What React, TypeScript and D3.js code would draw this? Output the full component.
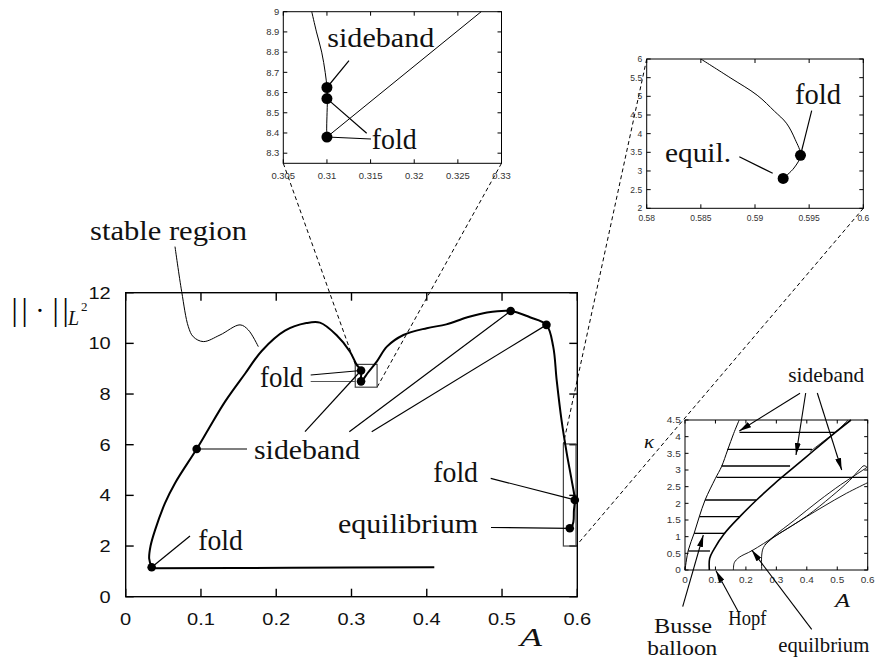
import React, { useEffect, useRef } from "react";
import * as d3 from "d3";

type Pt = [number, number];

// ---- main diagram: A vs ||u||_L2 ----
const mainXTicks = [0, 0.1, 0.2, 0.3, 0.4, 0.5, 0.6];
const mainXLabels = ["0", "0.1", "0.2", "0.3", "0.4", "0.5", "0.6"];
const mainYTicks = [0, 2, 4, 6, 8, 10, 12];
const mainYLabels = ["0", "2", "4", "6", "8", "10", "12"];

const lowerBranch: Pt[] = [[0.41, 1.16], [0.22, 1.14], [0.0345, 1.12]];
const upperBranch: Pt[] = [
  [0.0345, 1.16], [0.0312, 1.5], [0.033, 2.0], [0.039, 2.63], [0.0522, 3.69], [0.0655, 4.48],
  [0.0943, 5.83], [0.1097, 6.6], [0.132, 7.7], [0.1585, 8.8], [0.1807, 9.7], [0.2116, 10.5],
  [0.24, 10.8], [0.258, 10.82],
  [0.28, 10.33], [0.298, 9.67], [0.307, 9.15], [0.3127, 8.93], [0.3127, 8.5], [0.322, 8.85],
  [0.334, 9.3], [0.347, 9.87], [0.369, 10.33], [0.4, 10.6], [0.426, 10.75], [0.453, 11.02],
  [0.48, 11.22], [0.5115, 11.28], [0.537, 11.03], [0.559, 10.73], [0.568, 9.87], [0.5726, 8.55],
  [0.579, 6.98], [0.586, 5.66], [0.5925, 4.6], [0.5967, 3.82], [0.5955, 3.4], [0.5948, 2.95],
  [0.592, 2.74], [0.59, 2.7],
];
const stableRegion: Pt[] = [
  [0.0655, 13.82], [0.0744, 12.04], [0.0832, 10.66], [0.0898, 10.26], [0.1031, 10.07],
  [0.1253, 10.33], [0.1519, 10.73], [0.1629, 10.53], [0.1762, 9.87],
];
const mainDots: Pt[] = [
  [0.0345, 1.16], [0.0943, 5.83], [0.3127, 8.93], [0.3127, 8.5],
  [0.5115, 11.28], [0.559, 10.73], [0.5967, 3.82], [0.59, 2.7],
];
const zoomBox1 = { a: [0.305, 0.334], n: [8.27, 9.17] };
const zoomBox2 = { a: [0.5815, 0.5983], n: [2.0, 6.03] };

// ---- inset 1 ----
const in1XTicks = [0.305, 0.31, 0.315, 0.32, 0.325, 0.33];
const in1XLabels = ["0.305", "0.31", "0.315", "0.32", "0.325", "0.33"];
const in1YTicks = [8.3, 8.4, 8.5, 8.6, 8.7, 8.8, 8.9, 9];
const in1YLabels = ["8.3", "8.4", "8.5", "8.6", "8.7", "8.8", "8.9", "9"];
const in1Curve: Pt[] = [
  [0.30826, 9.0], [0.3088, 8.9], [0.3094, 8.8], [0.3098, 8.7], [0.31, 8.625],
  [0.31005, 8.57], [0.31, 8.48], [0.30997, 8.42], [0.31, 8.38],
];
const in1Line: Pt[] = [[0.31, 8.38], [0.32767, 9.0]];
const in1Dots: Pt[] = [[0.31, 8.625], [0.31, 8.57], [0.31, 8.38]];

// ---- inset 2 ----
const in2XTicks = [0.58, 0.585, 0.59, 0.595, 0.6];
const in2XLabels = ["0.58", "0.585", "0.59", "0.595", "0.6"];
const in2YTicks = [2, 2.5, 3, 3.5, 4, 4.5, 5, 5.5, 6];
const in2YLabels = ["2", "2.5", "3", "3.5", "4", "4.5", "5", "5.5", "6"];
const in2Curve: Pt[] = [
  [0.585, 6.0], [0.5877, 5.5], [0.5902, 5.03], [0.5918, 4.6], [0.5929, 4.28],
  [0.5937, 3.85], [0.5942, 3.42], [0.5936, 3.08], [0.5926, 2.8],
];
const in2Dots: Pt[] = [[0.5942, 3.42], [0.5926, 2.8]];

// ---- inset 3: Busse balloon (A, kappa) ----
const in3XTicks = [0, 0.1, 0.2, 0.3, 0.4, 0.5, 0.6];
const in3XLabels = ["0", "0.1", "0.2", "0.3", "0.4", "0.5", "0.6"];
const in3YTicks = [0, 0.5, 1, 1.5, 2, 2.5, 3, 3.5, 4, 4.5];
const in3YLabels = ["0", "0.5", "1", "1.5", "2", "2.5", "3", "3.5", "4", "4.5"];
const busseLeft: Pt[] = [
  [0, 0], [0.011, 0.6], [0.03, 1.1], [0.047, 1.6], [0.066, 2.1], [0.1, 2.75],
  [0.12, 3.1], [0.14, 3.6], [0.16, 4.1], [0.178, 4.5],
];
const sidebandRight: Pt[] = [
  [0.08, 0], [0.081, 0.35], [0.095, 0.62], [0.13, 1.1], [0.18, 1.6], [0.235, 2.1],
  [0.295, 2.6], [0.36, 3.1], [0.425, 3.6], [0.49, 4.1], [0.545, 4.5],
];
const sidebandInner: Pt[] = [[0.41, 3.55], [0.46, 3.9], [0.5, 4.18], [0.535, 4.5]];
const hatchKappa = [0.57, 1.1, 1.6, 2.1, 2.78, 3.12, 3.62, 4.13];
const hatchFrom = [0.011, 0.03, 0.047, 0.066, 0.104, 0.12, 0.139, 0.179];
const hatchTo = [0.082, 0.132, 0.18, 0.234, 0.6, 0.345, 0.417, 0.493];
const equilOuter: Pt[] = [
  [0.159, 0], [0.162, 0.22], [0.178, 0.38], [0.22, 0.58], [0.3, 1.04], [0.4, 1.62],
  [0.48, 2.2], [0.54, 2.68], [0.572, 3.0], [0.588, 3.13], [0.598, 3.08],
];
const equilInnerA: Pt[] = [
  [0.252, 0], [0.252, 0.45], [0.258, 0.68], [0.28, 0.9], [0.35, 1.32], [0.45, 1.88],
  [0.53, 2.3], [0.6, 2.62],
];
const equilInnerB: Pt[] = [
  [0.262, 0.75], [0.29, 1.0], [0.36, 1.5], [0.44, 2.08], [0.51, 2.55], [0.56, 2.85],
  [0.598, 3.08],
];

const serif = "'Liberation Serif', 'Times New Roman', serif";
const sans = "'Liberation Sans', Arial, sans-serif";

const App = () => {
  const ref = useRef<SVGSVGElement>(null);

  useEffect(() => {
    const svg = d3.select(ref.current);
    svg.selectAll("*").remove();

    const defs = svg.append("defs");
    defs
      .append("marker")
      .attr("id", "arr")
      .attr("viewBox", "0 0 12 6")
      .attr("refX", 12)
      .attr("refY", 3)
      .attr("markerUnits", "userSpaceOnUse")
      .attr("markerWidth", 12)
      .attr("markerHeight", 6)
      .attr("orient", "auto")
      .append("path")
      .attr("d", "M0,0L12,3L0,6z")
      .attr("fill", "#000");

    const smooth = (x: any, y: any) =>
      d3
        .line<Pt>()
        .x((d) => x(d[0]))
        .y((d) => y(d[1]))
        .curve(d3.curveCatmullRom.alpha(0.5));

    const seg = (x1: number, y1: number, x2: number, y2: number, w = 1, c = "#000") =>
      svg
        .append("line")
        .attr("x1", x1)
        .attr("y1", y1)
        .attr("x2", x2)
        .attr("y2", y2)
        .attr("stroke", c)
        .attr("stroke-width", w);

    const word = (t: string, x: number, y: number, size: number, len: number, italic = false) =>
      svg
        .append("text")
        .attr("x", x)
        .attr("y", y)
        .attr("font-family", serif)
        .attr("font-size", size)
        .attr("font-style", italic ? "italic" : "normal")
        .attr("textLength", len)
        .attr("lengthAdjust", "spacingAndGlyphs")
        .attr("fill", "#111")
        .text(t);

    const panel = (
      x: any, y: any,
      xt: number[], xl: string[], yt: number[], yl: string[],
      o: { tl: number; fs: number; sx: number; xdy: number; ydx: number; fw: number; col: string }
    ) => {
      const g = svg.append("g");
      const [x0, x1] = x.range();
      const [yb, yt0] = y.range();
      g.append("rect")
        .attr("x", x0)
        .attr("y", yt0)
        .attr("width", x1 - x0)
        .attr("height", yb - yt0)
        .attr("fill", "none")
        .attr("stroke", "#000")
        .attr("stroke-width", o.fw);
      xt.forEach((t, i) => {
        const px = x(t);
        g.append("line").attr("x1", px).attr("x2", px).attr("y1", yb).attr("y2", yb - o.tl)
          .attr("stroke", "#000").attr("stroke-width", o.fw);
        g.append("line").attr("x1", px).attr("x2", px).attr("y1", yt0).attr("y2", yt0 + o.tl)
          .attr("stroke", "#000").attr("stroke-width", o.fw);
        g.append("g")
          .attr("transform", `translate(${px},${yb + o.xdy}) scale(${o.sx},1)`)
          .append("text")
          .attr("text-anchor", "middle")
          .attr("font-family", sans)
          .attr("font-size", o.fs)
          .attr("fill", o.col)
          .text(xl[i]);
      });
      yt.forEach((t, i) => {
        const py = y(t);
        g.append("line").attr("x1", x0).attr("x2", x0 + o.tl).attr("y1", py).attr("y2", py)
          .attr("stroke", "#000").attr("stroke-width", o.fw);
        g.append("line").attr("x1", x1).attr("x2", x1 - o.tl).attr("y1", py).attr("y2", py)
          .attr("stroke", "#000").attr("stroke-width", o.fw);
        g.append("g")
          .attr("transform", `translate(${x0 - o.ydx},${py}) scale(${o.sx},1)`)
          .append("text")
          .attr("text-anchor", "end")
          .attr("dy", "0.36em")
          .attr("font-family", sans)
          .attr("font-size", o.fs)
          .attr("fill", o.col)
          .text(yl[i]);
      });
    };

    const dots = (x: any, y: any, pts: Pt[], r: number) =>
      pts.forEach((d) =>
        svg.append("circle").attr("cx", x(d[0])).attr("cy", y(d[1])).attr("r", r).attr("fill", "#000")
      );

    // scales
    const mx = d3.scaleLinear().domain([0, 0.6]).range([125.7, 577.3]);
    const my = d3.scaleLinear().domain([0, 12]).range([596.7, 292.7]);
    const ax = d3.scaleLinear().domain([0.305, 0.33]).range([283.3, 501.5]);
    const ay = d3.scaleLinear().domain([8.25, 9]).range([163.3, 11.7]);
    const bx = d3.scaleLinear().domain([0.58, 0.6]).range([646.7, 863.3]);
    const by = d3.scaleLinear().domain([2, 6]).range([208.3, 59]);
    const cx = d3.scaleLinear().domain([0, 0.6]).range([685, 867.7]);
    const cy = d3.scaleLinear().domain([0, 4.5]).range([570, 420]);

    // dashed zoom connectors
    const dash = (x1: number, y1: number, x2: number, y2: number) =>
      seg(x1, y1, x2, y2, 1).attr("stroke-dasharray", "4,3");
    dash(ax(0.305), ay(8.25), mx(zoomBox1.a[0]), my(zoomBox1.n[1]));
    dash(ax(0.33), ay(8.25), mx(zoomBox1.a[1]), my(zoomBox1.n[0]));
    dash(bx(0.58), by(6), mx(zoomBox2.a[0]), my(zoomBox2.n[1]));
    dash(bx(0.6), by(2), mx(zoomBox2.a[1]), my(zoomBox2.n[0]));

    // ---- main panel ----
    panel(mx, my, mainXTicks, mainXLabels, mainYTicks, mainYLabels, {
      tl: 8, fs: 17, sx: 1.18, xdy: 28.5, ydx: 15, fw: 1.4, col: "#111",
    });
    [zoomBox1, zoomBox2].forEach((b) =>
      svg.append("rect")
        .attr("x", mx(b.a[0]))
        .attr("y", my(b.n[1]))
        .attr("width", mx(b.a[1]) - mx(b.a[0]))
        .attr("height", my(b.n[0]) - my(b.n[1]))
        .attr("fill", "none")
        .attr("stroke", "#444")
        .attr("stroke-width", 1.2)
    );
    const ml = smooth(mx, my);
    svg.append("path").attr("d", ml(lowerBranch)).attr("fill", "none").attr("stroke", "#000").attr("stroke-width", 2);
    svg.append("path").attr("d", ml(upperBranch)).attr("fill", "none").attr("stroke", "#000").attr("stroke-width", 2);
    svg.append("path").attr("d", ml(stableRegion)).attr("fill", "none").attr("stroke", "#000").attr("stroke-width", 1);
    dots(mx, my, mainDots, 4.3);

    // main annotations
    word("stable region", 90, 240, 28, 157);
    word("fold", 198.3, 550, 29, 44.5);
    seg(190, 536, mx(mainDots[0][0]), my(mainDots[0][1]), 1.2);
    word("sideband", 254, 459.3, 28, 106);
    seg(mx(mainDots[1][0]), my(mainDots[1][1]), 247, my(mainDots[1][1]), 1.2);
    word("fold", 260, 387.3, 30, 43.3);
    seg(310.7, 375, mx(mainDots[2][0]), my(mainDots[2][1]), 1.2);
    seg(310.7, 381.5, mx(zoomBox1.a[0]), 381.5, 1.2, "#555");
    seg(305, 431.7, mx(mainDots[2][0]), my(mainDots[2][1]), 1.2);
    seg(349.3, 431.7, mx(mainDots[4][0]), my(mainDots[4][1]), 1.2);
    seg(371.7, 431.7, mx(mainDots[5][0]), my(mainDots[5][1]), 1.2);
    word("fold", 433.3, 481.7, 29, 44.7);
    seg(490.7, 478.3, mx(mainDots[6][0]), my(mainDots[6][1]), 1.2);
    word("equilibrium", 338, 533.3, 28, 140);
    seg(491, 527.5, mx(mainDots[7][0]), my(mainDots[7][1]), 1.2);
    word("A", 520, 646, 25, 22, true);

    // y label ||.||_{L^2}
    [14.5, 24.5, 55.5, 65.5].forEach((px) =>
      svg.append("text").attr("x", px).attr("y", 320).attr("text-anchor", "middle")
        .attr("font-family", serif).attr("font-size", 31).attr("fill", "#000").text("|")
    );
    svg.append("text").attr("x", 40).attr("y", 320).attr("text-anchor", "middle")
      .attr("font-family", serif).attr("font-size", 28).attr("fill", "#000").text("·");
    svg.append("text").attr("x", 68).attr("y", 325).attr("font-family", serif)
      .attr("font-size", 20).attr("font-style", "italic").attr("fill", "#111").text("L");
    svg.append("text").attr("x", 81).attr("y", 311).attr("font-family", serif)
      .attr("font-size", 13).attr("fill", "#111").text("2");

    // ---- inset 1 ----
    panel(ax, ay, in1XTicks, in1XLabels, in1YTicks, in1YLabels, {
      tl: 4, fs: 9, sx: 1.05, xdy: 16, ydx: 4, fw: 1, col: "#333",
    });
    const al = smooth(ax, ay);
    svg.append("path").attr("d", al(in1Curve)).attr("fill", "none").attr("stroke", "#000").attr("stroke-width", 1);
    svg.append("path").attr("d", al(in1Line)).attr("fill", "none").attr("stroke", "#000").attr("stroke-width", 1);
    dots(ax, ay, in1Dots, 5.5);
    word("sideband", 327.3, 46.7, 28, 107);
    seg(349, 60.7, ax(in1Dots[0][0]), ay(in1Dots[0][1]), 1.2);
    word("fold", 371.7, 149, 29, 45);
    seg(366.7, 133.3, ax(in1Dots[1][0]), ay(in1Dots[1][1]), 1.2);
    seg(371, 139, ax(in1Dots[2][0]), ay(in1Dots[2][1]), 1.2);

    // ---- inset 2 ----
    panel(bx, by, in2XTicks, in2XLabels, in2YTicks, in2YLabels, {
      tl: 4, fs: 8.5, sx: 1.0, xdy: 13, ydx: 4.5, fw: 1, col: "#333",
    });
    const bl = smooth(bx, by);
    svg.append("path").attr("d", bl(in2Curve)).attr("fill", "none").attr("stroke", "#000").attr("stroke-width", 1);
    dots(bx, by, in2Dots, 5.5);
    word("fold", 795, 104, 29, 46);
    seg(811.7, 110.7, bx(in2Dots[0][0]), by(in2Dots[0][1]), 1.2);
    word("equil.", 665, 161.7, 28, 66);
    seg(739.3, 156.7, 772.7, 173.3, 1.2);

    // ---- inset 3 ----
    panel(cx, cy, in3XTicks, in3XLabels, in3YTicks, in3YLabels, {
      tl: 3.5, fs: 9.5, sx: 1.05, xdy: 12.7, ydx: 4.3, fw: 1, col: "#333",
    });
    const cl = smooth(cx, cy);
    hatchKappa.forEach((k, i) =>
      seg(cx(hatchFrom[i]), cy(k), cx(hatchTo[i]), cy(k), 1.3)
    );
    svg.append("path").attr("d", cl(busseLeft)).attr("fill", "none").attr("stroke", "#000").attr("stroke-width", 1);
    svg.append("path").attr("d", cl(sidebandRight)).attr("fill", "none").attr("stroke", "#000").attr("stroke-width", 1.6);
    svg.append("path").attr("d", cl(sidebandInner)).attr("fill", "none").attr("stroke", "#000").attr("stroke-width", 0.8);
    [equilOuter, equilInnerA, equilInnerB].forEach((c) =>
      svg.append("path").attr("d", cl(c)).attr("fill", "none").attr("stroke", "#000").attr("stroke-width", 0.9)
    );
    const arrow = (x1: number, y1: number, x2: number, y2: number) =>
      seg(x1, y1, x2, y2, 1.1).attr("marker-end", "url(#arr)");
    word("sideband", 788.3, 381.7, 21, 76);
    arrow(800, 393.3, 739.3, 431);
    arrow(805.7, 393, 796, 455);
    arrow(817.3, 393, 841.7, 470);
    word("κ", 644, 448, 19, 10, true);
    word("A", 835, 606.7, 19, 15, true);
    word("Busse", 654, 633, 21, 58);
    word("balloon", 647.3, 655, 21, 70);
    arrow(682.7, 606.7, 703.3, 535);
    word("Hopf", 728.3, 625, 21, 38);
    arrow(738.3, 611.7, 716, 570.7);
    word("equilbrium", 778.3, 651.7, 21, 91);
    arrow(811.7, 629.3, 751.7, 550);
  });

  return (
    <svg
      ref={ref}
      width={875}
      height={664}
      style={{ position: "absolute", left: 0, top: 0, background: "#fff" }}
    ></svg>
  );
};

export default App;
